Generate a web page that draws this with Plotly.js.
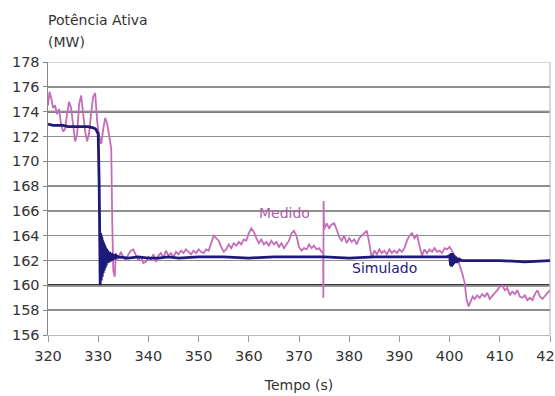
<!DOCTYPE html>
<html>
<head>
<meta charset="utf-8">
<script src="https://cdn.plot.ly/plotly-3.0.1.min.js"></script>
<style>html,body{margin:0;padding:0;background:#fff;}#chart{width:555px;height:396px;}</style>
</head>
<body>
<div id="chart"></div>
<script>
// Measured (Medido)
const tMedido = [320.0,320.3,320.7,321.0,321.4,321.8,322.2,322.6,323.0,323.4,323.8,324.2,324.6,325.0,325.4,325.8,326.2,326.6,327.0,327.4,327.8,328.2,328.6,329.0,329.4,329.8,330.2,330.6,331.0,331.4,331.8,332.2,332.6,332.8,333.0,333.3,
333.5,334.0,334.5,335.0,335.5,336.0,336.5,337.0,337.5,338.0,338.5,339.0,339.5,340.0,340.5,341.0,341.5,342.0,342.5,343.0,343.5,344.0,344.5,345.0,345.5,346.0,346.5,347.0,347.5,348.0,348.5,349.0,349.5,350.0,350.5,351.0,351.5,352.0,352.5,353.0,353.5,354.0,354.5,355.0,355.5,356.0,356.5,357.0,357.5,358.0,358.5,359.0,359.5,360.0,360.5,361.0,361.5,362.0,362.5,363.0,363.5,364.0,364.5,365.0,365.5,366.0,366.5,367.0,367.5,368.0,368.5,369.0,369.5,370.0,370.5,371.0,371.5,372.0,372.5,373.0,373.5,374.0,374.5,374.8,374.85,374.9,375.0,375.5,376.0,376.5,377.0,377.5,378.0,378.5,379.0,379.5,380.0,380.5,381.0,381.5,382.0,382.5,383.0,383.5,384.0,384.5,385.0,385.5,386.0,386.5,387.0,387.5,388.0,388.5,389.0,389.5,390.0,390.5,391.0,391.5,392.0,392.5,393.0,393.5,394.0,394.5,395.0,395.5,396.0,396.5,397.0,397.5,398.0,398.5,399.0,399.5,400.0,400.5,401.0,401.5,402.0,402.5,403.0,403.4,403.8,404.2,404.6,405.0,405.5,406.0,406.5,407.0,407.5,408.0,408.5,409.0,409.5,410.0,410.5,411.0,411.5,412.0,412.5,413.0,413.5,414.0,414.5,415.0,415.5,416.0,416.5,417.0,417.5,418.0,418.5,419.0,419.5,420.0];
const vMedido = [174.5,175.6,175.0,174.3,174.5,173.8,174.2,173.0,172.4,172.6,173.8,174.8,174.3,172.8,171.6,172.2,174.6,175.3,174.0,172.4,171.6,172.3,173.9,175.2,175.5,173.2,172.0,171.4,172.6,173.5,173.0,171.8,171.0,165.0,161.2,160.7,
162.6,162.1,162.7,162.3,162.0,162.5,162.8,162.9,162.4,162.0,162.3,161.8,161.9,162.3,162.1,162.5,161.9,162.4,162.6,162.2,162.8,162.4,162.6,162.3,162.7,162.5,162.8,162.6,162.9,162.7,162.5,162.8,162.6,162.9,162.7,162.6,162.9,162.8,163.4,164.0,163.8,163.6,163.1,162.7,162.9,163.3,163.0,163.4,163.2,163.5,163.3,163.7,163.6,164.2,164.6,164.3,163.8,163.4,163.7,163.3,163.5,163.2,163.6,163.3,163.5,163.1,163.4,163.0,163.3,163.6,164.2,164.4,164.0,163.1,162.8,163.0,162.9,163.3,163.0,163.2,162.9,163.0,162.7,162.7,159.0,166.8,164.5,165.0,164.6,164.9,165.0,164.5,163.9,163.6,164.0,163.4,163.8,163.5,163.7,163.3,163.8,164.0,164.2,164.4,163.4,162.2,162.8,162.5,162.9,162.6,162.8,162.5,162.9,162.6,162.8,162.6,162.9,162.7,163.0,163.6,164.0,164.2,163.8,164.1,163.2,162.4,162.9,162.6,162.9,162.7,163.0,162.7,162.8,162.6,163.0,162.9,163.1,162.7,162.4,162.2,161.6,161.0,160.2,158.8,158.3,158.7,159.1,158.9,159.2,159.0,159.3,159.1,159.4,158.9,159.2,159.4,159.6,159.9,160.0,159.6,159.8,159.2,159.5,159.3,159.6,159.1,159.0,159.2,158.8,159.0,158.8,159.3,159.6,159.1,158.9,159.2,159.4,159.6];

// Simulated (Simulado)
const tSimulado = [320.0,321.0,322.0,323.0,324.0,325.0,326.0,327.0,328.0,329.0,329.5,330.0,330.2,
330.40,330.45,330.50,330.55,330.60,330.65,330.70,330.75,330.80,330.85,330.90,330.95,331.00,331.05,331.10,331.15,331.20,331.25,331.30,331.35,331.40,331.45,331.50,331.55,331.60,331.65,331.70,331.75,331.80,331.90,332.00,332.10,332.20,332.30,332.40,332.50,332.60,332.70,332.80,332.90,333.0,333.2,333.4,333.6,334.0,
336.0,338.0,340.0,342.0,344.0,346.0,350.0,355.0,360.0,365.0,370.0,375.0,380.0,385.0,390.0,395.0,399.5,
400.0,400.2,400.3,400.4,400.5,400.6,400.7,400.8,400.9,401.0,401.2,401.4,401.6,401.8,402.0,402.4,405.0,410.0,415.0,420.0];
const vSimulado = [173.0,172.9,172.9,172.9,172.8,172.8,172.8,172.8,172.8,172.7,172.6,172.2,168.0,
160.0,164.2,160.2,164.0,160.4,163.9,160.5,163.8,160.7,163.6,160.8,163.5,161.0,163.4,161.1,163.3,161.2,163.2,161.3,163.1,161.4,163.0,161.5,162.9,161.6,162.9,161.7,162.8,161.8,162.8,161.8,162.7,161.9,162.7,161.9,162.6,162.0,162.6,162.0,162.5,162.1,162.5,162.1,162.4,162.3,
162.2,162.3,162.2,162.2,162.3,162.2,162.3,162.3,162.2,162.3,162.3,162.3,162.2,162.3,162.3,162.3,162.3,
162.4,161.6,162.6,161.5,162.6,161.6,162.5,161.7,162.4,161.8,162.3,161.8,162.2,161.9,162.1,162.0,162.0,162.0,161.9,162.0];

const yTicks = [156,158,160,162,164,166,168,170,172,174,176,178];
const xTicks = [320,330,340,350,360,370,380,390,400,410,420];

const FONT = "DejaVu Sans, Liberation Sans, sans-serif";
const PINK = "#c46cba";
const NAVY = "#1e1a7a";

const traces = [
  {x: tMedido, y: vMedido, type: "scatter", mode: "lines", name: "Medido",
   line: {color: PINK, width: 1.8}},
  {x: tSimulado, y: vSimulado, type: "scatter", mode: "lines", name: "Simulado",
   line: {color: NAVY, width: 2.8}}
];

const layout = {
  width: 555, height: 396,
  margin: {l: 48, r: 5, t: 62, b: 61},
  paper_bgcolor: "#fff", plot_bgcolor: "#fff",
  showlegend: false,
  font: {family: FONT, size: 14, color: "#333"},
  xaxis: {
    range: [320, 420], tickvals: xTicks, ticktext: xTicks.map(String),
    showgrid: false, zeroline: false,
    showline: true, linecolor: "#bbbbbb", linewidth: 1,
    ticks: "outside", ticklen: 6, tickcolor: "#999", tickwidth: 1,
    ticklabeloverflow: "allow",
    ticklabelstandoff: 2,
    tickfont: {family: FONT, size: 14.5, color: "#333"},
    title: {text: "Tempo (s)", font: {family: FONT, size: 14, color: "#333"}, standoff: 16}
  },
  yaxis: {
    range: [156, 178], tickvals: yTicks, ticktext: yTicks.map(String),
    showgrid: true, gridcolor: "#8f8f8f", gridwidth: 1.5,
    zeroline: false,
    showline: true, linecolor: "#888", linewidth: 1.5, mirror: false,
    ticks: "outside", ticklen: 4, tickcolor: "#888", tickwidth: 1,
    tickfont: {family: FONT, size: 14.5, color: "#333"}
  },
  shapes: [
    {type: "line", xref: "paper", x0: 0, x1: 1, yref: "y", y0: 160, y1: 160, line: {color: "#333", width: 2.5}, layer: "below"},
    {type: "line", xref: "paper", x0: 0, x1: 1, yref: "y", y0: 174, y1: 174, line: {color: "#555", width: 2}, layer: "below"},
    {type: "line", xref: "paper", x0: 0, x1: 1, yref: "y", y0: 178, y1: 178, line: {color: "#c8c8c8", width: 1.5}, layer: "below"},
    {type: "line", xref: "paper", x0: 1, x1: 1, yref: "paper", y0: 0, y1: 1, line: {color: "#cccccc", width: 1.5}, layer: "below"}
  ],
  annotations: [
    {text: "Potência Ativa", xref: "paper", yref: "paper", x: 0, y: 1, xanchor: "left", yanchor: "bottom",
     yshift: 32, xshift: -2, showarrow: false, font: {family: FONT, size: 14, color: "#333"}},
    {text: "(MW)", xref: "paper", yref: "paper", x: 0, y: 1, xanchor: "left", yanchor: "bottom",
     yshift: 10, xshift: -2, showarrow: false, font: {family: FONT, size: 14, color: "#333"}},
    {text: "Medido", xref: "x", yref: "y", x: 367.2, y: 165.8, showarrow: false,
     font: {family: FONT, size: 14, color: "#b060a8"}},
    {text: "Simulado", xref: "x", yref: "y", x: 387, y: 161.4, showarrow: false,
     font: {family: FONT, size: 14, color: NAVY}}
  ]
};

Plotly.newPlot("chart", traces, layout, {displayModeBar: false, staticPlot: true});
</script>
</body>
</html>
